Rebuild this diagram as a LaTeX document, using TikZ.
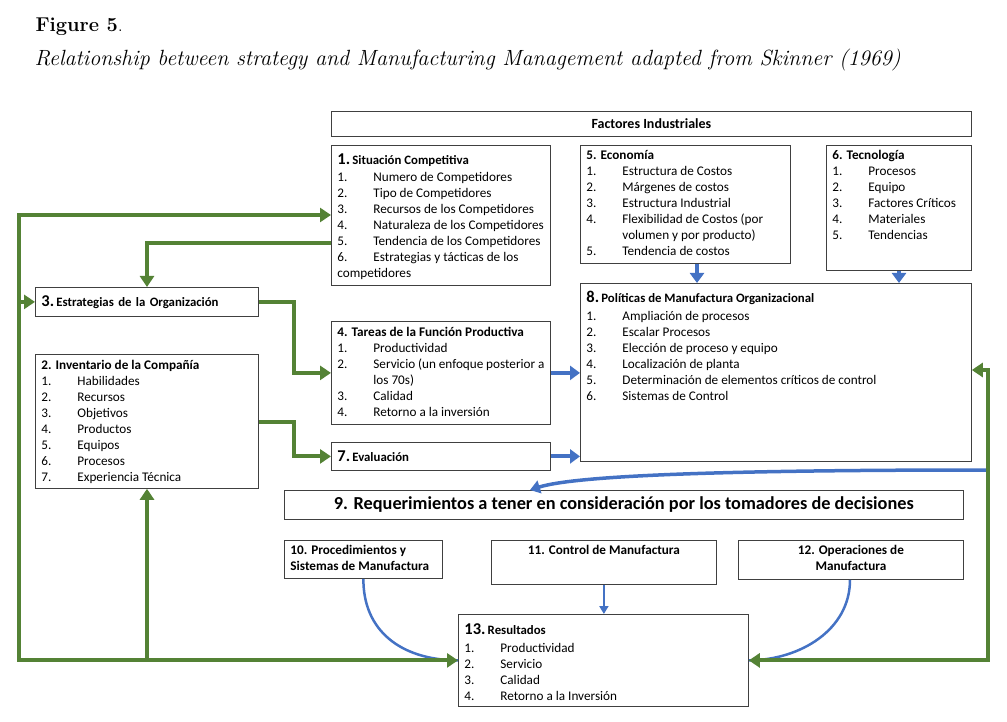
\documentclass[tikz,border=0pt]{standalone}
\usepackage{fontspec}
\newfontfamily\carlito{Carlito}
\usetikzlibrary{arrows.meta}
\definecolor{verdeG}{HTML}{548235}
\definecolor{azulG}{HTML}{4472C4}
\newcommand{\itm}[2]{\makebox[36pt][l]{#1.}#2}
\newcommand{\tit}[2]{{\bfseries\fontsize{16.5}{16}\selectfont #1}\,{\bfseries\fontsize{12.8}{16}\selectfont #2}}
\newcommand{\arriba}[3]{\parbox[c][#2][t]{#1}{\raggedright #3}}

\begin{document}
\begin{tikzpicture}[x=1pt, y=-1pt,
	caja/.style={draw=black!75, line width=0.8pt, inner xsep=6pt, inner ysep=5pt, anchor=north west,
		font=\carlito\fontsize{13.2}{16}\selectfont},
	negrita/.style={font=\carlito\bfseries\fontsize{13.2}{16}\selectfont},
	flechaverde/.style={draw=verdeG, line width=4pt, -{Triangle[length=11pt,width=14pt]}},
	flechaazul/.style={draw=azulG, line width=4pt, -{Triangle[length=10pt,width=14pt]}},
	curvaazul/.style={draw=azulG, line width=2.5pt}]
	%%%%% START %%%%%
	\useasboundingbox (0,0) rectangle (1007,722);
	
	\node[anchor=base west, font=\fontsize{20}{22}\selectfont] (fig) at (32,32) {\textbf{Figure 5}.};
	\node[anchor=base west, font=\itshape\fontsize{22}{26}\selectfont] (sub) at (31,66)
		{Relationship between strategy and Manufacturing Management adapted from Skinner (1969)};
	
	%% fila superior
	\node[caja, minimum width=640, minimum height=25, inner sep=0pt, font=\carlito\bfseries\fontsize{14}{16}\selectfont] (fi) at (331,111)
		{Factores Industriales};
	
	\node[caja] (b1) at (331,145) {\arriba{207pt}{130pt}{\vspace*{3pt}\tit{1.}{Situación Competitiva}\\[1.5pt]
		\itm{1}{Numero de Competidores}\\
		\itm{2}{Tipo de Competidores}\\
		\itm{3}{Recursos de los Competidores}\\
		\itm{4}{Naturaleza de los Competidores}\\
		\itm{5}{Tendencia de los Competidores}\\
		\itm{6}{Estrategias y tácticas de los}\\
		competidores}};
	
	\node[caja] (b5) at (580,145) {\arriba{198pt}{108pt}{\textbf{5. Economía}\\
		\itm{1}{Estructura de Costos}\\
		\itm{2}{Márgenes de costos}\\
		\itm{3}{Estructura Industrial}\\
		\itm{4}{Flexibilidad de Costos (por}\\
		\hspace*{36pt}volumen y por producto)\\
		\itm{5}{Tendencia de costos}}};
	
	\node[caja] (b6) at (826,145) {\arriba{133pt}{115pt}{\textbf{6. Tecnología}\\
		\itm{1}{Procesos}\\
		\itm{2}{Equipo}\\
		\itm{3}{Factores Críticos}\\
		\itm{4}{Materiales}\\
		\itm{5}{Tendencias}}};
	
	%% columna izquierda
	\node[caja, minimum width=223, minimum height=29, text width=211, align=left, inner ysep=0pt] (b3) at (35,287)
		{\tit{3.}{Estrategias de la Organización}};
	
	\node[caja] (b2) at (35,354) {\arriba{211pt}{124pt}{\vspace*{1pt}\textbf{2. Inventario de la Compañía}\\
		\itm{1}{Habilidades}\\
		\itm{2}{Recursos}\\
		\itm{3}{Objetivos}\\
		\itm{4}{Productos}\\
		\itm{5}{Equipos}\\
		\itm{6}{Procesos}\\
		\itm{7}{Experiencia Técnica}}};
	
	%% columna central
	\node[caja] (b4) at (331,321) {\arriba{207pt}{93pt}{\vspace*{1pt}\textbf{4. Tareas de la Función Productiva}\\
		\itm{1}{Productividad}\\
		\itm{2}{Servicio (un enfoque posterior a}\\
		\hspace*{36pt}los 70s)\\
		\itm{3}{Calidad}\\
		\itm{4}{Retorno a la inversión}}};
	
	\node[caja, minimum width=219, minimum height=28, text width=207, align=left, inner ysep=0pt] (b7) at (331,442)
		{\tit{7.}{Evaluación}};
	
	\node[caja] (b8) at (580,283) {\arriba{379pt}{168pt}{\vspace*{3pt}\tit{8.}{Políticas de Manufactura Organizacional}\\[1.5pt]
		\itm{1}{Ampliación de procesos}\\
		\itm{2}{Escalar Procesos}\\
		\itm{3}{Elección de proceso y equipo}\\
		\itm{4}{Localización de planta}\\
		\itm{5}{Determinación de elementos críticos de control}\\
		\itm{6}{Sistemas de Control}}};
	
	%% parte inferior
	\node[caja, minimum width=679, minimum height=29, inner sep=0pt, font=\carlito\bfseries\fontsize{18.3}{20}\selectfont] (b9) at (284,490)
		{9. Requerimientos a tener en consideración por los tomadores de decisiones};
	
	\node[caja, negrita] (b10) at (284,540)
		{\arriba{146pt}{28pt}{10. Procedimientos y\\Sistemas de Manufactura}};
	\node[caja, negrita] (b11) at (491,540)
		{\parbox[c][34pt][t]{213pt}{\centering 11. Control de Manufactura}};
	\node[caja, negrita] (b12) at (738,540)
		{\parbox[c][29pt][t]{213pt}{\centering 12. Operaciones de\\Manufactura}};
	
	\node[caja] (b13) at (458,614) {\arriba{278pt}{82pt}{\vspace*{4pt}\tit{13.}{Resultados}\\[2pt]
		\itm{1}{Productividad}\\
		\itm{2}{Servicio}\\
		\itm{3}{Calidad}\\
		\itm{4}{Retorno a la Inversión}}};
	
	%% flechas azules
	\draw[flechaazul] (697,0 |- b5.south) -- (697,0 |- b8.north);
	\draw[flechaazul] (899,0 |- b6.south) -- (899,0 |- b8.north);
	\draw[flechaazul] (b4.east) -- (b8.west |- b4.east);
	\draw[flechaazul] (b7.east) -- (b8.west |- b7.east);
	\draw[draw=azulG, line width=2pt, -{Triangle[length=8pt,width=9pt]}] (b11.south) -- (b11.south |- b13.north);
	
	\coordinate (retro) at (988,470);
	\draw[curvaazul, line width=3.5pt, -{Triangle[length=10pt,width=13pt]}] (retro) .. controls (760,470) and (580,474) .. (530,0 |- b9.north);
	\draw[curvaazul] (b10.south) .. controls (363,630) and (400,660) .. (b13.west);
	\draw[curvaazul] (850,0 |- b12.south) .. controls (850,630) and (800,660) .. (b13.east);
	
	%% flechas verdes
	\draw[flechaverde, {Triangle[length=11pt,width=14pt]}-{Triangle[length=11pt,width=14pt]}]
		(b13.west) -| (19,215) -- (b1.west |- 0,215);
	\draw[flechaverde] (19,0 |- b3.west) -- (b3.west);
	\draw[flechaverde] (147,0 |- b13.west) -- (147,0 |- b2.south);
	\draw[flechaverde] (b1.west |- 0,243) -| (147,0 |- b3.north);
	\draw[flechaverde] (b3.east) -- (294,0 |- b3.east) |- (b4.west);
	\draw[flechaverde] (b2.east |- 0,422) -- (294,422) |- (b7.west);
	\draw[flechaverde, {Triangle[length=11pt,width=14pt]}-{Triangle[length=11pt,width=14pt]}]
		(b8.east |- 0,370) -- (988,370) |- (b13.east);
	
	%%%%% END %%%%%
\end{tikzpicture}
\end{document}
